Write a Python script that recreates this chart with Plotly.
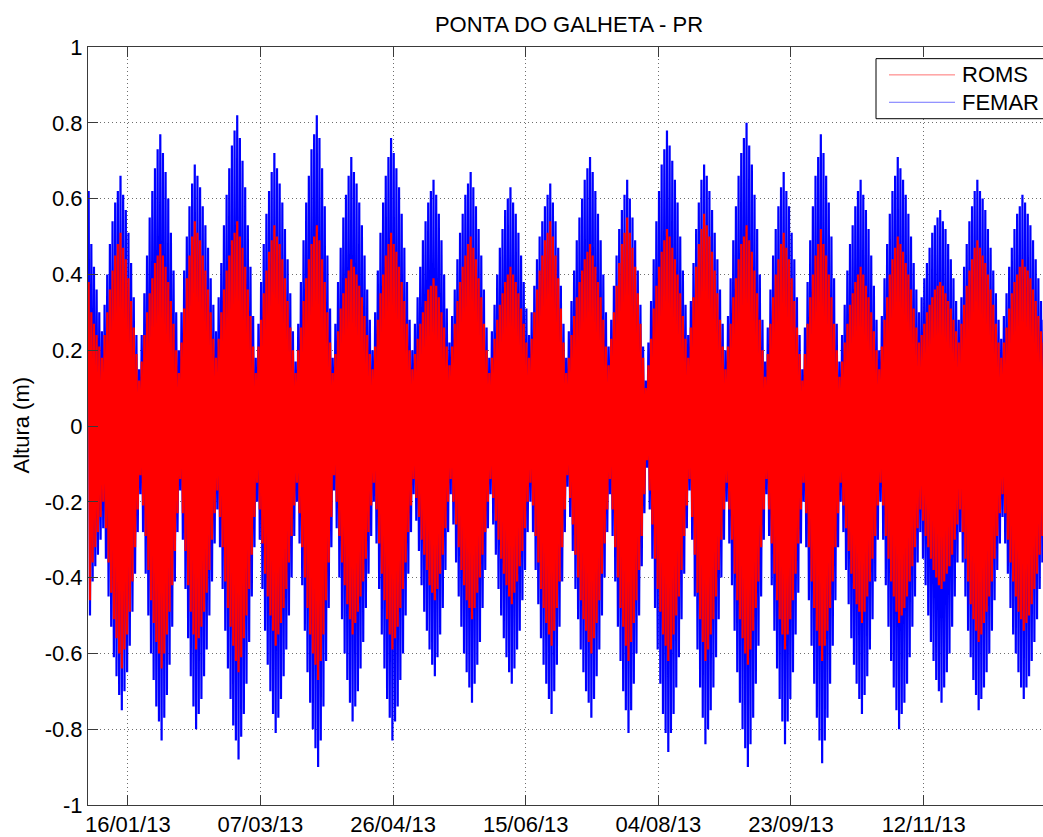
import pandas as pd
import plotly.graph_objects as go

# ---------------- data (daily high / low water, metres) ----------------
start_date = "2013-01-01"

femar_high = [
    0.62, 0.48, 0.42, 0.36, 0.30, 0.25,
    0.32, 0.40, 0.48, 0.54, 0.59, 0.62, 0.66,
    0.61, 0.57, 0.51, 0.43, 0.34, 0.24, 0.15,
    0.24, 0.35, 0.45, 0.55, 0.62, 0.68, 0.73, 0.77,
    0.72, 0.67, 0.60, 0.51, 0.41, 0.30, 0.20,
    0.30, 0.41, 0.50, 0.58, 0.64, 0.69,
    0.66, 0.63, 0.58, 0.53, 0.47, 0.39, 0.32, 0.25,
    0.34, 0.43, 0.53, 0.61, 0.68, 0.74, 0.78, 0.82,
    0.76, 0.70, 0.63, 0.53, 0.42, 0.29, 0.18,
    0.27, 0.38, 0.48, 0.56, 0.62, 0.67, 0.72,
    0.68, 0.64, 0.59, 0.52, 0.44, 0.35, 0.25, 0.17,
    0.27, 0.38, 0.49, 0.59, 0.66, 0.73, 0.77, 0.82,
    0.76, 0.68, 0.58, 0.45, 0.31, 0.18,
    0.27, 0.38, 0.47, 0.55, 0.61, 0.66, 0.71,
    0.67, 0.64, 0.59, 0.53, 0.45, 0.36, 0.28, 0.20,
    0.30, 0.41, 0.51, 0.59, 0.66, 0.71, 0.76,
    0.72, 0.68, 0.63, 0.56, 0.47, 0.38, 0.28, 0.20,
    0.27, 0.34, 0.42, 0.49, 0.54, 0.59, 0.62, 0.65,
    0.61, 0.56, 0.49, 0.40, 0.31, 0.22,
    0.29, 0.36, 0.44, 0.51, 0.56, 0.61, 0.64, 0.67,
    0.63, 0.58, 0.52, 0.45, 0.36, 0.26, 0.18,
    0.25, 0.32, 0.40, 0.47, 0.52, 0.57, 0.60, 0.63,
    0.59, 0.56, 0.51, 0.45, 0.38, 0.31, 0.24,
    0.30, 0.37, 0.44, 0.50, 0.54, 0.58, 0.61, 0.64,
    0.59, 0.54, 0.47, 0.37, 0.27, 0.18,
    0.25, 0.33, 0.41, 0.49, 0.55, 0.60, 0.65, 0.68, 0.71,
    0.67, 0.62, 0.56, 0.49, 0.40, 0.30, 0.21,
    0.28, 0.37, 0.45, 0.52, 0.57, 0.61, 0.65,
    0.60, 0.55, 0.49, 0.41, 0.32, 0.21, 0.12,
    0.22, 0.33, 0.44, 0.54, 0.62, 0.69, 0.73, 0.78,
    0.74, 0.70, 0.65, 0.59, 0.50, 0.41, 0.32, 0.24,
    0.33, 0.43, 0.52, 0.59, 0.65, 0.69,
    0.66, 0.62, 0.57, 0.51, 0.44, 0.36, 0.27, 0.20,
    0.29, 0.39, 0.49, 0.58, 0.66, 0.72, 0.76, 0.80,
    0.74, 0.69, 0.61, 0.52, 0.40, 0.28, 0.17,
    0.26, 0.36, 0.45, 0.52, 0.58, 0.63, 0.67,
    0.62, 0.58, 0.51, 0.44, 0.34, 0.24, 0.15,
    0.26, 0.38, 0.49, 0.58, 0.66, 0.71, 0.77,
    0.72, 0.66, 0.59, 0.50, 0.39, 0.27, 0.17,
    0.24, 0.32, 0.41, 0.48, 0.53, 0.58, 0.62, 0.65,
    0.61, 0.57, 0.52, 0.45, 0.37, 0.28, 0.20,
    0.29, 0.39, 0.48, 0.56, 0.62, 0.66, 0.71,
    0.68, 0.65, 0.61, 0.56, 0.50, 0.43, 0.36, 0.30,
    0.34, 0.39, 0.43, 0.47, 0.51, 0.53, 0.55, 0.57,
    0.54, 0.52, 0.48, 0.44, 0.39, 0.33, 0.28,
    0.34, 0.42, 0.48, 0.54, 0.58, 0.62, 0.65,
    0.62, 0.60, 0.57, 0.52, 0.47, 0.41, 0.35, 0.28, 0.23,
    0.29, 0.35, 0.42, 0.47, 0.52, 0.56, 0.58, 0.61,
    0.59, 0.56, 0.53, 0.49, 0.44, 0.39, 0.33, 0.28,
    0.32,
]

femar_low = [
    -0.50, -0.41, -0.37, -0.34, -0.30, -0.27,
    -0.35, -0.45, -0.53, -0.61, -0.66, -0.71, -0.75,
    -0.70, -0.65, -0.58, -0.49, -0.39, -0.28, -0.18,
    -0.28, -0.39, -0.50, -0.60, -0.67, -0.74, -0.78, -0.83,
    -0.77, -0.71, -0.63, -0.53, -0.41, -0.28, -0.17,
    -0.30, -0.43, -0.56, -0.66, -0.74, -0.80,
    -0.76, -0.72, -0.66, -0.59, -0.50, -0.41, -0.31, -0.22,
    -0.32, -0.43, -0.54, -0.64, -0.72, -0.79, -0.83, -0.88,
    -0.82, -0.76, -0.68, -0.57, -0.45, -0.32, -0.20,
    -0.30, -0.43, -0.54, -0.63, -0.70, -0.76, -0.81,
    -0.77, -0.72, -0.66, -0.59, -0.50, -0.40, -0.29, -0.20,
    -0.31, -0.42, -0.54, -0.65, -0.73, -0.80, -0.85, -0.90,
    -0.83, -0.74, -0.62, -0.48, -0.32, -0.17,
    -0.27, -0.40, -0.51, -0.60, -0.67, -0.73, -0.78,
    -0.74, -0.70, -0.64, -0.57, -0.48, -0.39, -0.29, -0.20,
    -0.31, -0.43, -0.55, -0.64, -0.72, -0.77, -0.83,
    -0.78, -0.74, -0.67, -0.60, -0.50, -0.39, -0.28, -0.18,
    -0.25, -0.33, -0.42, -0.49, -0.54, -0.59, -0.63, -0.66,
    -0.61, -0.55, -0.48, -0.38, -0.28, -0.18,
    -0.26, -0.36, -0.45, -0.53, -0.60, -0.65, -0.69, -0.73,
    -0.68, -0.63, -0.57, -0.48, -0.38, -0.27, -0.18,
    -0.26, -0.34, -0.43, -0.50, -0.56, -0.61, -0.65, -0.68,
    -0.64, -0.59, -0.54, -0.46, -0.38, -0.28, -0.20,
    -0.28, -0.38, -0.47, -0.56, -0.63, -0.68, -0.72, -0.76,
    -0.70, -0.63, -0.53, -0.41, -0.28, -0.16,
    -0.24, -0.33, -0.43, -0.51, -0.59, -0.65, -0.70, -0.73, -0.77,
    -0.72, -0.66, -0.59, -0.50, -0.40, -0.28, -0.18,
    -0.29, -0.41, -0.53, -0.62, -0.70, -0.75, -0.81,
    -0.75, -0.68, -0.60, -0.50, -0.37, -0.23, -0.11,
    -0.22, -0.35, -0.48, -0.59, -0.68, -0.76, -0.81, -0.86,
    -0.81, -0.76, -0.69, -0.61, -0.51, -0.39, -0.27, -0.17,
    -0.30, -0.45, -0.59, -0.69, -0.77, -0.84,
    -0.80, -0.75, -0.69, -0.61, -0.51, -0.40, -0.30, -0.20,
    -0.31, -0.42, -0.54, -0.65, -0.73, -0.80, -0.85, -0.90,
    -0.84, -0.77, -0.68, -0.58, -0.45, -0.30, -0.18,
    -0.29, -0.42, -0.54, -0.64, -0.72, -0.78, -0.84,
    -0.78, -0.72, -0.65, -0.55, -0.44, -0.31, -0.20,
    -0.32, -0.46, -0.58, -0.68, -0.77, -0.83, -0.89,
    -0.83, -0.77, -0.68, -0.58, -0.46, -0.32, -0.20,
    -0.28, -0.38, -0.47, -0.56, -0.63, -0.68, -0.72, -0.76,
    -0.71, -0.66, -0.59, -0.51, -0.41, -0.30, -0.20,
    -0.30, -0.42, -0.53, -0.62, -0.69, -0.75, -0.80,
    -0.76, -0.73, -0.68, -0.61, -0.53, -0.45, -0.36, -0.28,
    -0.35, -0.42, -0.50, -0.57, -0.62, -0.67, -0.70, -0.73,
    -0.69, -0.65, -0.60, -0.53, -0.45, -0.36, -0.28,
    -0.36, -0.45, -0.54, -0.61, -0.67, -0.71, -0.75,
    -0.72, -0.69, -0.65, -0.60, -0.54, -0.46, -0.38, -0.31, -0.24,
    -0.31, -0.39, -0.48, -0.55, -0.60, -0.65, -0.69, -0.72,
    -0.69, -0.66, -0.62, -0.57, -0.51, -0.43, -0.36, -0.30,
    -0.33,
]

roms_high = [
    0.38, 0.30, 0.27, 0.24, 0.21, 0.18,
    0.24, 0.30, 0.36, 0.41, 0.45, 0.48, 0.51,
    0.47, 0.44, 0.39, 0.33, 0.26, 0.19, 0.12,
    0.17, 0.24, 0.30, 0.35, 0.39, 0.43, 0.45, 0.48,
    0.45, 0.42, 0.38, 0.33, 0.27, 0.20, 0.14,
    0.22, 0.31, 0.39, 0.45, 0.50, 0.54,
    0.51, 0.49, 0.45, 0.41, 0.36, 0.30, 0.23, 0.18,
    0.23, 0.30, 0.36, 0.41, 0.45, 0.49, 0.51, 0.54,
    0.50, 0.47, 0.42, 0.36, 0.29, 0.21, 0.14,
    0.21, 0.28, 0.35, 0.41, 0.46, 0.49, 0.53,
    0.50, 0.48, 0.44, 0.39, 0.33, 0.26, 0.20, 0.14,
    0.20, 0.26, 0.33, 0.39, 0.44, 0.48, 0.50, 0.53,
    0.49, 0.44, 0.38, 0.30, 0.22, 0.14,
    0.19, 0.25, 0.31, 0.35, 0.39, 0.41, 0.44,
    0.42, 0.40, 0.37, 0.34, 0.29, 0.24, 0.19, 0.15,
    0.21, 0.28, 0.35, 0.40, 0.45, 0.48, 0.51,
    0.48, 0.46, 0.42, 0.38, 0.33, 0.27, 0.20, 0.15,
    0.19, 0.23, 0.27, 0.30, 0.33, 0.36, 0.37, 0.39,
    0.37, 0.34, 0.30, 0.26, 0.21, 0.16,
    0.21, 0.27, 0.33, 0.38, 0.42, 0.45, 0.48, 0.50,
    0.47, 0.44, 0.39, 0.34, 0.27, 0.20, 0.14,
    0.18, 0.23, 0.28, 0.32, 0.35, 0.38, 0.40, 0.42,
    0.40, 0.38, 0.35, 0.31, 0.27, 0.22, 0.18,
    0.23, 0.30, 0.36, 0.41, 0.45, 0.49, 0.51, 0.54,
    0.50, 0.45, 0.39, 0.31, 0.22, 0.14,
    0.18, 0.24, 0.29, 0.34, 0.38, 0.41, 0.44, 0.46, 0.48,
    0.45, 0.42, 0.38, 0.34, 0.28, 0.21, 0.16,
    0.23, 0.30, 0.37, 0.43, 0.48, 0.51, 0.55,
    0.51, 0.47, 0.42, 0.35, 0.27, 0.18, 0.10,
    0.16, 0.23, 0.31, 0.37, 0.42, 0.46, 0.49, 0.52,
    0.50, 0.47, 0.44, 0.40, 0.35, 0.29, 0.23, 0.18,
    0.26, 0.34, 0.42, 0.48, 0.52, 0.56,
    0.53, 0.50, 0.46, 0.41, 0.35, 0.28, 0.21, 0.15,
    0.21, 0.27, 0.34, 0.39, 0.44, 0.48, 0.50, 0.53,
    0.49, 0.46, 0.41, 0.35, 0.28, 0.20, 0.13,
    0.19, 0.27, 0.34, 0.40, 0.44, 0.48, 0.51,
    0.47, 0.44, 0.39, 0.33, 0.26, 0.19, 0.12,
    0.19, 0.27, 0.34, 0.40, 0.45, 0.48, 0.52,
    0.48, 0.45, 0.40, 0.34, 0.27, 0.20, 0.13,
    0.17, 0.22, 0.27, 0.32, 0.35, 0.38, 0.40, 0.42,
    0.40, 0.37, 0.34, 0.30, 0.25, 0.20, 0.15,
    0.21, 0.28, 0.34, 0.40, 0.44, 0.47, 0.50,
    0.48, 0.46, 0.43, 0.40, 0.36, 0.31, 0.26, 0.22,
    0.24, 0.27, 0.30, 0.32, 0.34, 0.36, 0.37, 0.38,
    0.37, 0.35, 0.33, 0.31, 0.28, 0.25, 0.22,
    0.27, 0.32, 0.37, 0.41, 0.44, 0.47, 0.49,
    0.47, 0.45, 0.43, 0.40, 0.36, 0.32, 0.27, 0.22, 0.18,
    0.22, 0.26, 0.31, 0.35, 0.38, 0.40, 0.42, 0.44,
    0.42, 0.41, 0.39, 0.36, 0.33, 0.29, 0.25, 0.22,
    0.24,
]

roms_low = [
    -0.46, -0.36, -0.32, -0.28, -0.24, -0.20,
    -0.27, -0.36, -0.44, -0.51, -0.56, -0.60, -0.64,
    -0.59, -0.55, -0.49, -0.41, -0.32, -0.22, -0.13,
    -0.21, -0.29, -0.38, -0.46, -0.52, -0.57, -0.60, -0.64,
    -0.60, -0.55, -0.49, -0.42, -0.33, -0.23, -0.14,
    -0.23, -0.33, -0.42, -0.49, -0.55, -0.59,
    -0.56, -0.53, -0.49, -0.44, -0.38, -0.30, -0.23, -0.17,
    -0.24, -0.32, -0.41, -0.48, -0.53, -0.58, -0.62, -0.65,
    -0.61, -0.56, -0.50, -0.43, -0.34, -0.24, -0.15,
    -0.22, -0.31, -0.39, -0.45, -0.50, -0.54, -0.58,
    -0.55, -0.52, -0.48, -0.43, -0.36, -0.29, -0.21, -0.15,
    -0.23, -0.32, -0.40, -0.48, -0.55, -0.60, -0.63, -0.67,
    -0.62, -0.55, -0.46, -0.36, -0.24, -0.13,
    -0.20, -0.29, -0.36, -0.42, -0.47, -0.51, -0.55,
    -0.52, -0.49, -0.45, -0.41, -0.35, -0.28, -0.21, -0.15,
    -0.22, -0.31, -0.39, -0.46, -0.51, -0.55, -0.59,
    -0.56, -0.53, -0.48, -0.43, -0.36, -0.28, -0.21, -0.14,
    -0.19, -0.24, -0.30, -0.34, -0.38, -0.42, -0.44, -0.46,
    -0.43, -0.39, -0.34, -0.27, -0.20, -0.14,
    -0.20, -0.26, -0.32, -0.38, -0.42, -0.46, -0.48, -0.51,
    -0.48, -0.44, -0.40, -0.34, -0.28, -0.20, -0.14,
    -0.19, -0.25, -0.30, -0.35, -0.39, -0.42, -0.45, -0.47,
    -0.44, -0.41, -0.37, -0.33, -0.27, -0.20, -0.15,
    -0.21, -0.29, -0.36, -0.43, -0.48, -0.52, -0.55, -0.58,
    -0.54, -0.48, -0.41, -0.32, -0.22, -0.13,
    -0.19, -0.26, -0.34, -0.40, -0.46, -0.51, -0.54, -0.57, -0.60,
    -0.56, -0.52, -0.46, -0.39, -0.31, -0.22, -0.14,
    -0.22, -0.32, -0.40, -0.48, -0.53, -0.58, -0.62,
    -0.57, -0.52, -0.46, -0.38, -0.29, -0.18, -0.09,
    -0.17, -0.26, -0.35, -0.43, -0.49, -0.55, -0.58, -0.62,
    -0.59, -0.55, -0.50, -0.45, -0.38, -0.29, -0.21, -0.14,
    -0.24, -0.34, -0.44, -0.51, -0.57, -0.62,
    -0.59, -0.55, -0.51, -0.45, -0.38, -0.30, -0.22, -0.15,
    -0.22, -0.30, -0.39, -0.46, -0.51, -0.56, -0.60, -0.63,
    -0.59, -0.54, -0.48, -0.41, -0.32, -0.22, -0.14,
    -0.22, -0.31, -0.39, -0.46, -0.51, -0.55, -0.59,
    -0.55, -0.51, -0.46, -0.39, -0.31, -0.22, -0.15,
    -0.23, -0.32, -0.41, -0.48, -0.54, -0.58, -0.62,
    -0.58, -0.54, -0.48, -0.41, -0.32, -0.23, -0.15,
    -0.21, -0.27, -0.33, -0.39, -0.43, -0.47, -0.49, -0.52,
    -0.49, -0.45, -0.41, -0.35, -0.29, -0.21, -0.15,
    -0.21, -0.29, -0.35, -0.41, -0.45, -0.49, -0.52,
    -0.50, -0.48, -0.45, -0.41, -0.37, -0.32, -0.27, -0.22,
    -0.25, -0.29, -0.32, -0.35, -0.38, -0.40, -0.42, -0.43,
    -0.41, -0.39, -0.37, -0.34, -0.30, -0.26, -0.22,
    -0.28, -0.35, -0.41, -0.47, -0.51, -0.54, -0.57,
    -0.55, -0.52, -0.49, -0.45, -0.41, -0.35, -0.29, -0.23, -0.18,
    -0.23, -0.30, -0.36, -0.41, -0.45, -0.49, -0.51, -0.54,
    -0.52, -0.50, -0.47, -0.43, -0.39, -0.34, -0.29, -0.24,
    -0.26,
]

series_names = ["ROMS", "FEMAR"]
series_colors = ["#ff0000", "#0000ff"]

x_tick_dates = ["2013-01-16", "2013-03-07", "2013-04-26", "2013-06-15",
                "2013-08-04", "2013-09-23", "2013-11-12"]
x_tick_labels = ["16/01/13", "07/03/13", "26/04/13", "15/06/13",
                 "04/08/13", "23/09/13", "12/11/13"]
y_tick_values = [-1, -0.8, -0.6, -0.4, -0.2, 0, 0.2, 0.4, 0.6, 0.8, 1]
y_tick_labels = ["-1", "-0.8", "-0.6", "-0.4", "-0.2", "0", "0.2", "0.4", "0.6", "0.8", "1"]

title_text = "PONTA DO GALHETA - PR"
y_title = "Altura (m)"

# ---------------- build ----------------
FONT = "Liberation Sans, Arial, Helvetica, sans-serif"
FS = 22
W, H = 1043, 837
ML, MT, MB = 88, 47, 29
PW, PH = W - ML, H - MT - MB

t0 = pd.Timestamp(start_date)


def tide_xy(high, low):
    xs, ys = [], []
    for d, (hi, lo) in enumerate(zip(high, low)):
        xs.append(t0 + pd.Timedelta(hours=24 * d + 6))
        ys.append(hi)
        xs.append(t0 + pd.Timedelta(hours=24 * d + 18))
        ys.append(lo)
    return xs, ys


fig = go.Figure()
fx, fy = tide_xy(femar_high, femar_low)
rx, ry = tide_xy(roms_high, roms_low)
fig.add_trace(go.Scatter(x=fx, y=fy, mode="lines", name=series_names[1],
                         line=dict(color=series_colors[1], width=2.2, simplify=False),
                         showlegend=False, hoverinfo="skip"))
fig.add_trace(go.Scatter(x=rx, y=ry, mode="lines", name=series_names[0],
                         line=dict(color=series_colors[0], width=2.2, simplify=False),
                         showlegend=False, hoverinfo="skip"))


def px_x(p):
    return (p - ML) / PW


def px_y(p):
    return (H - MB - p) / PH


shapes = [
    dict(type="rect", xref="paper", yref="paper",
         x0=px_x(876), x1=px_x(1060), y0=px_y(119), y1=px_y(58.7),
         line=dict(color="#000000", width=1), fillcolor="white", layer="above"),
]
annotations = [
    dict(text=y_title, xref="paper", yref="paper", x=px_x(22), y=px_y(427),
         textangle=-90, showarrow=False, xanchor="center", yanchor="middle",
         font=dict(family=FONT, size=FS, color="#000")),
]
for i, (name, col) in enumerate(zip(series_names, series_colors)):
    yy = 75 + i * 27.5
    shapes.append(dict(type="line", xref="paper", yref="paper",
                       x0=px_x(889), x1=px_x(955), y0=px_y(yy), y1=px_y(yy),
                       line=dict(color=col, width=1), opacity=0.55, layer="above"))
    annotations.append(dict(text=name, xref="paper", yref="paper",
                            x=px_x(960), y=px_y(yy), showarrow=False,
                            xanchor="left", yanchor="middle",
                            font=dict(family=FONT, size=FS, color="#000")))

GRID = dict(showgrid=True, gridcolor="#6e6e6e", griddash="1px,3px", gridwidth=1)

fig.update_layout(
    width=W, height=H,
    margin=dict(l=ML, r=0, t=MT, b=MB, pad=0),
    paper_bgcolor="white", plot_bgcolor="white",
    font=dict(family=FONT, size=FS, color="#000"),
    title=dict(text=title_text, x=569 / W, xref="container", xanchor="center",
               y=1 - 24 / H, yref="container", yanchor="middle",
               font=dict(family=FONT, size=FS, color="#000")),
    showlegend=False,
    shapes=shapes,
    annotations=annotations,
    xaxis=dict(
        type="date",
        range=["2013-01-01 00:00", "2013-12-27 00:00"],
        tickmode="array", tickvals=x_tick_dates, ticktext=x_tick_labels,
        ticks="inside", ticklen=10, tickcolor="#3a3a3a", tickwidth=1,
        showline=True, linecolor="#3a3a3a", linewidth=1, mirror="ticks",
        zeroline=False, tickfont=dict(family=FONT, size=FS, color="#000"),
        fixedrange=True, **GRID,
    ),
    yaxis=dict(
        range=[-1, 1],
        tickmode="array", tickvals=y_tick_values, ticktext=y_tick_labels,
        ticks="inside", ticklen=10, tickcolor="#3a3a3a", tickwidth=1,
        showline=True, linecolor="#3a3a3a", linewidth=1, mirror=False,
        zeroline=False, tickfont=dict(family=FONT, size=FS, color="#000"),
        fixedrange=True, **GRID,
    ),
)

fig.write_html("out.html")
